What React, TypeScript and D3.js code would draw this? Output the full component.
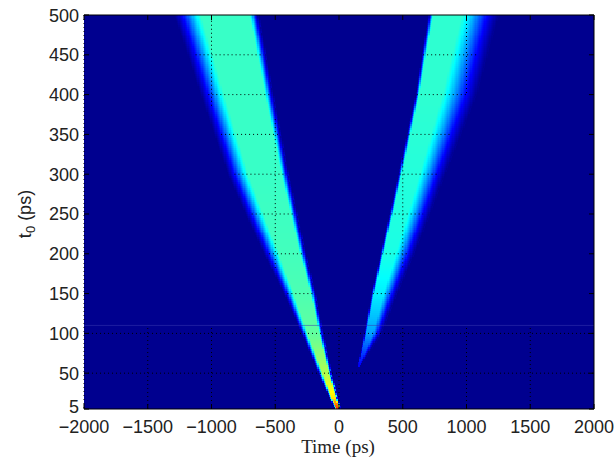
import React from "react";
import * as d3 from "d3";

// ---- data ----
const xTicks = [-2000, -1500, -1000, -500, 0, 500, 1000, 1500, 2000];
const yTicks = [5, 50, 100, 150, 200, 250, 300, 350, 400, 450, 500];

// left (negative-time) band: outer edges, core edges (ps) and peak level per t0
const leftT0 = [5, 20, 50, 100, 150, 200, 300, 400, 500];
const leftOuterL = [-25, -75, -160, -290, -430, -590, -870, -1085, -1290];
const leftCoreL = [-12, -55, -125, -245, -355, -470, -710, -900, -1080];
const leftCoreR = [0, -25, -80, -155, -222, -305, -450, -580, -700];
const leftOuterR = [10, -12, -60, -125, -185, -260, -395, -515, -630];
const leftPeak = [0.85, 0.65, 0.55, 0.47, 0.45, 0.44, 0.43, 0.43, 0.43];

// right (positive-time) band
const rightT0 = [60, 100, 150, 200, 300, 400, 500];
const rightOuterL = [150, 195, 255, 325, 465, 600, 700];
const rightCoreL = [152, 212, 275, 348, 492, 628, 737];
const rightCoreR = [158, 265, 350, 445, 630, 810, 960];
const rightOuterR = [165, 330, 455, 590, 830, 1080, 1250];
const rightPeak = [0.12, 0.28, 0.36, 0.4, 0.41, 0.42, 0.42];

const seamT0 = 110;

// ---- layout ----
const W = 616, H = 460;
const M = { left: 84, right: 594, top: 15, bottom: 409 };

const x = d3.scaleLinear().domain([-2000, 2000]).range([M.left, M.right]);
const y = d3.scaleLinear().domain([5, 500]).range([M.bottom, M.top]);

const jet = d3
  .scaleLinear<string>()
  .domain([0, 0.125, 0.375, 0.625, 0.875, 1])
  .range(["#00008f", "#0000ff", "#00ffff", "#ffff00", "#ff0000", "#800000"])
  .clamp(true);

type Band = {
  t0: number[]; oL: number[]; cL: number[]; cR: number[]; oR: number[]; pk: number[];
};
const bands: Band[] = [
  { t0: leftT0, oL: leftOuterL, cL: leftCoreL, cR: leftCoreR, oR: leftOuterR, pk: leftPeak },
  { t0: rightT0, oL: rightOuterL, cL: rightCoreL, cR: rightCoreR, oR: rightOuterR, pk: rightPeak },
];
const bandScales = bands.map((b) => ({
  min: b.t0[0],
  oL: d3.scaleLinear().domain(b.t0).range(b.oL).clamp(true),
  cL: d3.scaleLinear().domain(b.t0).range(b.cL).clamp(true),
  cR: d3.scaleLinear().domain(b.t0).range(b.cR).clamp(true),
  oR: d3.scaleLinear().domain(b.t0).range(b.oR).clamp(true),
  pk: d3.scaleLinear().domain(b.t0).range(b.pk).clamp(true),
}));

const ramp = (u: number) => {
  const v = Math.max(0, Math.min(1, u));
  return 0.75 * v + 0.25 * v * v * (3 - 2 * v);
};

function value(t: number, t0: number): number {
  let best = 0;
  for (const s of bandScales) {
    if (t0 < s.min) continue;
    const L = s.oL(t0), CL = s.cL(t0), CR = s.cR(t0), R = s.oR(t0), P = s.pk(t0);
    let f = 0;
    if (t < L || t > R) f = 0;
    else if (t < CL) f = ramp((t - L) / Math.max(1e-6, CL - L));
    else if (t > CR) f = ramp((R - t) / Math.max(1e-6, R - CR));
    else f = 1;
    best = Math.max(best, f * P);
  }
  return best;
}

// heatmap cells
const dT = 10;
const dT0 = 2.5;
const cells: { t: number; t0: number; v: number }[] = [];
for (let t0 = 5; t0 <= 500 + 1e-9; t0 += dT0) {
  for (let t = -2000; t < 2000; t += dT) {
    const v = value(t + dT / 2, t0);
    if (v > 0.004) cells.push({ t, t0, v });
  }
}

// grid segments (above the seam only visible inside the bands)
const thr = 0.12;
type Seg = { x1: number; y1: number; x2: number; y2: number };
const gridSegs: Seg[] = [];
for (const g of yTicks.slice(1, -1)) {
  if (g < seamT0) {
    gridSegs.push({ x1: x(-2000), y1: y(g), x2: x(2000), y2: y(g) });
  } else {
    let start: number | null = null;
    for (let t = -2000; t <= 2000; t += 5) {
      const on = value(t, g) > thr;
      if (on && start === null) start = t;
      if ((!on || t === 2000) && start !== null) {
        gridSegs.push({ x1: x(start), y1: y(g), x2: x(t), y2: y(g) });
        start = null;
      }
    }
  }
}
for (const g of xTicks.slice(1, -1)) {
  gridSegs.push({ x1: x(g), y1: y(5), x2: x(g), y2: y(seamT0) });
  let start: number | null = null;
  for (let t0 = seamT0; t0 <= 500; t0 += 1) {
    const on = value(g, t0) > thr;
    if (on && start === null) start = t0;
    if ((!on || t0 === 500) && start !== null) {
      gridSegs.push({ x1: x(g), y1: y(start), x2: x(g), y2: y(t0) });
      start = null;
    }
  }
}

const fmt = (v: number) => (v < 0 ? "\u2212" + Math.abs(v) : String(v));

export default function App() {
  const cw = Math.abs(x(dT) - x(0));
  const ch = Math.abs(y(dT0) - y(0));
  return (
    <svg
      width={W}
      height={H}
      style={{ position: "absolute", left: 0, top: 0, background: "#fff" }}
    >
      <rect x={0} y={0} width={W} height={H} fill="#fff" />
      <rect
        x={M.left}
        y={M.top}
        width={M.right - M.left}
        height={M.bottom - M.top}
        fill={jet(0)}
      />
      <g shapeRendering="crispEdges">
        {cells.map((c, i) => (
          <rect
            key={i}
            x={x(c.t)}
            y={Math.max(M.top, y(c.t0) - ch / 2)}
            width={cw + 0.6}
            height={Math.min(ch + 0.6, M.bottom - (y(c.t0) - ch / 2))}
            fill={jet(c.v)}
          />
        ))}
      </g>
      {/* seam */}
      <line
        x1={M.left}
        x2={M.right}
        y1={y(seamT0)}
        y2={y(seamT0)}
        stroke="#3a3ab0"
        strokeWidth={1}
        opacity={0.5}
      />
      {/* grid */}
      <g stroke="#000" strokeWidth={1} strokeDasharray="1,3" fill="none">
        {gridSegs.map((s, i) => (
          <line key={i} x1={s.x1} y1={s.y1} x2={s.x2} y2={s.y2} />
        ))}
        <line x1={M.left} x2={M.left} y1={M.top} y2={M.bottom} />
      </g>
      {/* box */}
      <g stroke="#000" strokeWidth={1}>
        <line x1={M.left} x2={M.right} y1={M.top} y2={M.top} />
        <line x1={M.left} x2={M.right} y1={M.bottom} y2={M.bottom} />
        <line x1={M.right} x2={M.right} y1={M.top} y2={M.bottom} />
        {xTicks.map((t) => (
          <g key={"xt" + t}>
            <line x1={x(t)} x2={x(t)} y1={M.bottom} y2={M.bottom - 5} />
            <line x1={x(t)} x2={x(t)} y1={M.top} y2={M.top + 5} />
          </g>
        ))}
        {yTicks.map((t) => (
          <g key={"yt" + t}>
            <line x1={M.left} x2={M.left + 5} y1={y(t)} y2={y(t)} />
            <line x1={M.right} x2={M.right - 5} y1={y(t)} y2={y(t)} />
          </g>
        ))}
      </g>
      {/* tick labels */}
      <g fontFamily="'Liberation Sans', Arial, sans-serif" fontSize={18} fill="#222">
        {xTicks.map((t) => (
          <text key={"xl" + t} x={x(t)} y={433} textAnchor="middle">
            {fmt(t)}
          </text>
        ))}
        {yTicks.map((t) => (
          <text key={"yl" + t} x={79} y={y(t) + (t === 5 ? 3.5 : 6.5)} textAnchor="end">
            {t}
          </text>
        ))}
        <text transform="translate(31,214) rotate(-90)" textAnchor="middle">
          t<tspan fontSize={13} dy={4}>0</tspan>
          <tspan dy={-4}> (ps)</tspan>
        </text>
      </g>
      <text
        x={338}
        y={453}
        textAnchor="middle"
        fontFamily="'Liberation Serif', 'Times New Roman', serif"
        fontSize={19}
        fill="#222"
      >
        Time (ps)
      </text>
    </svg>
  );
}
